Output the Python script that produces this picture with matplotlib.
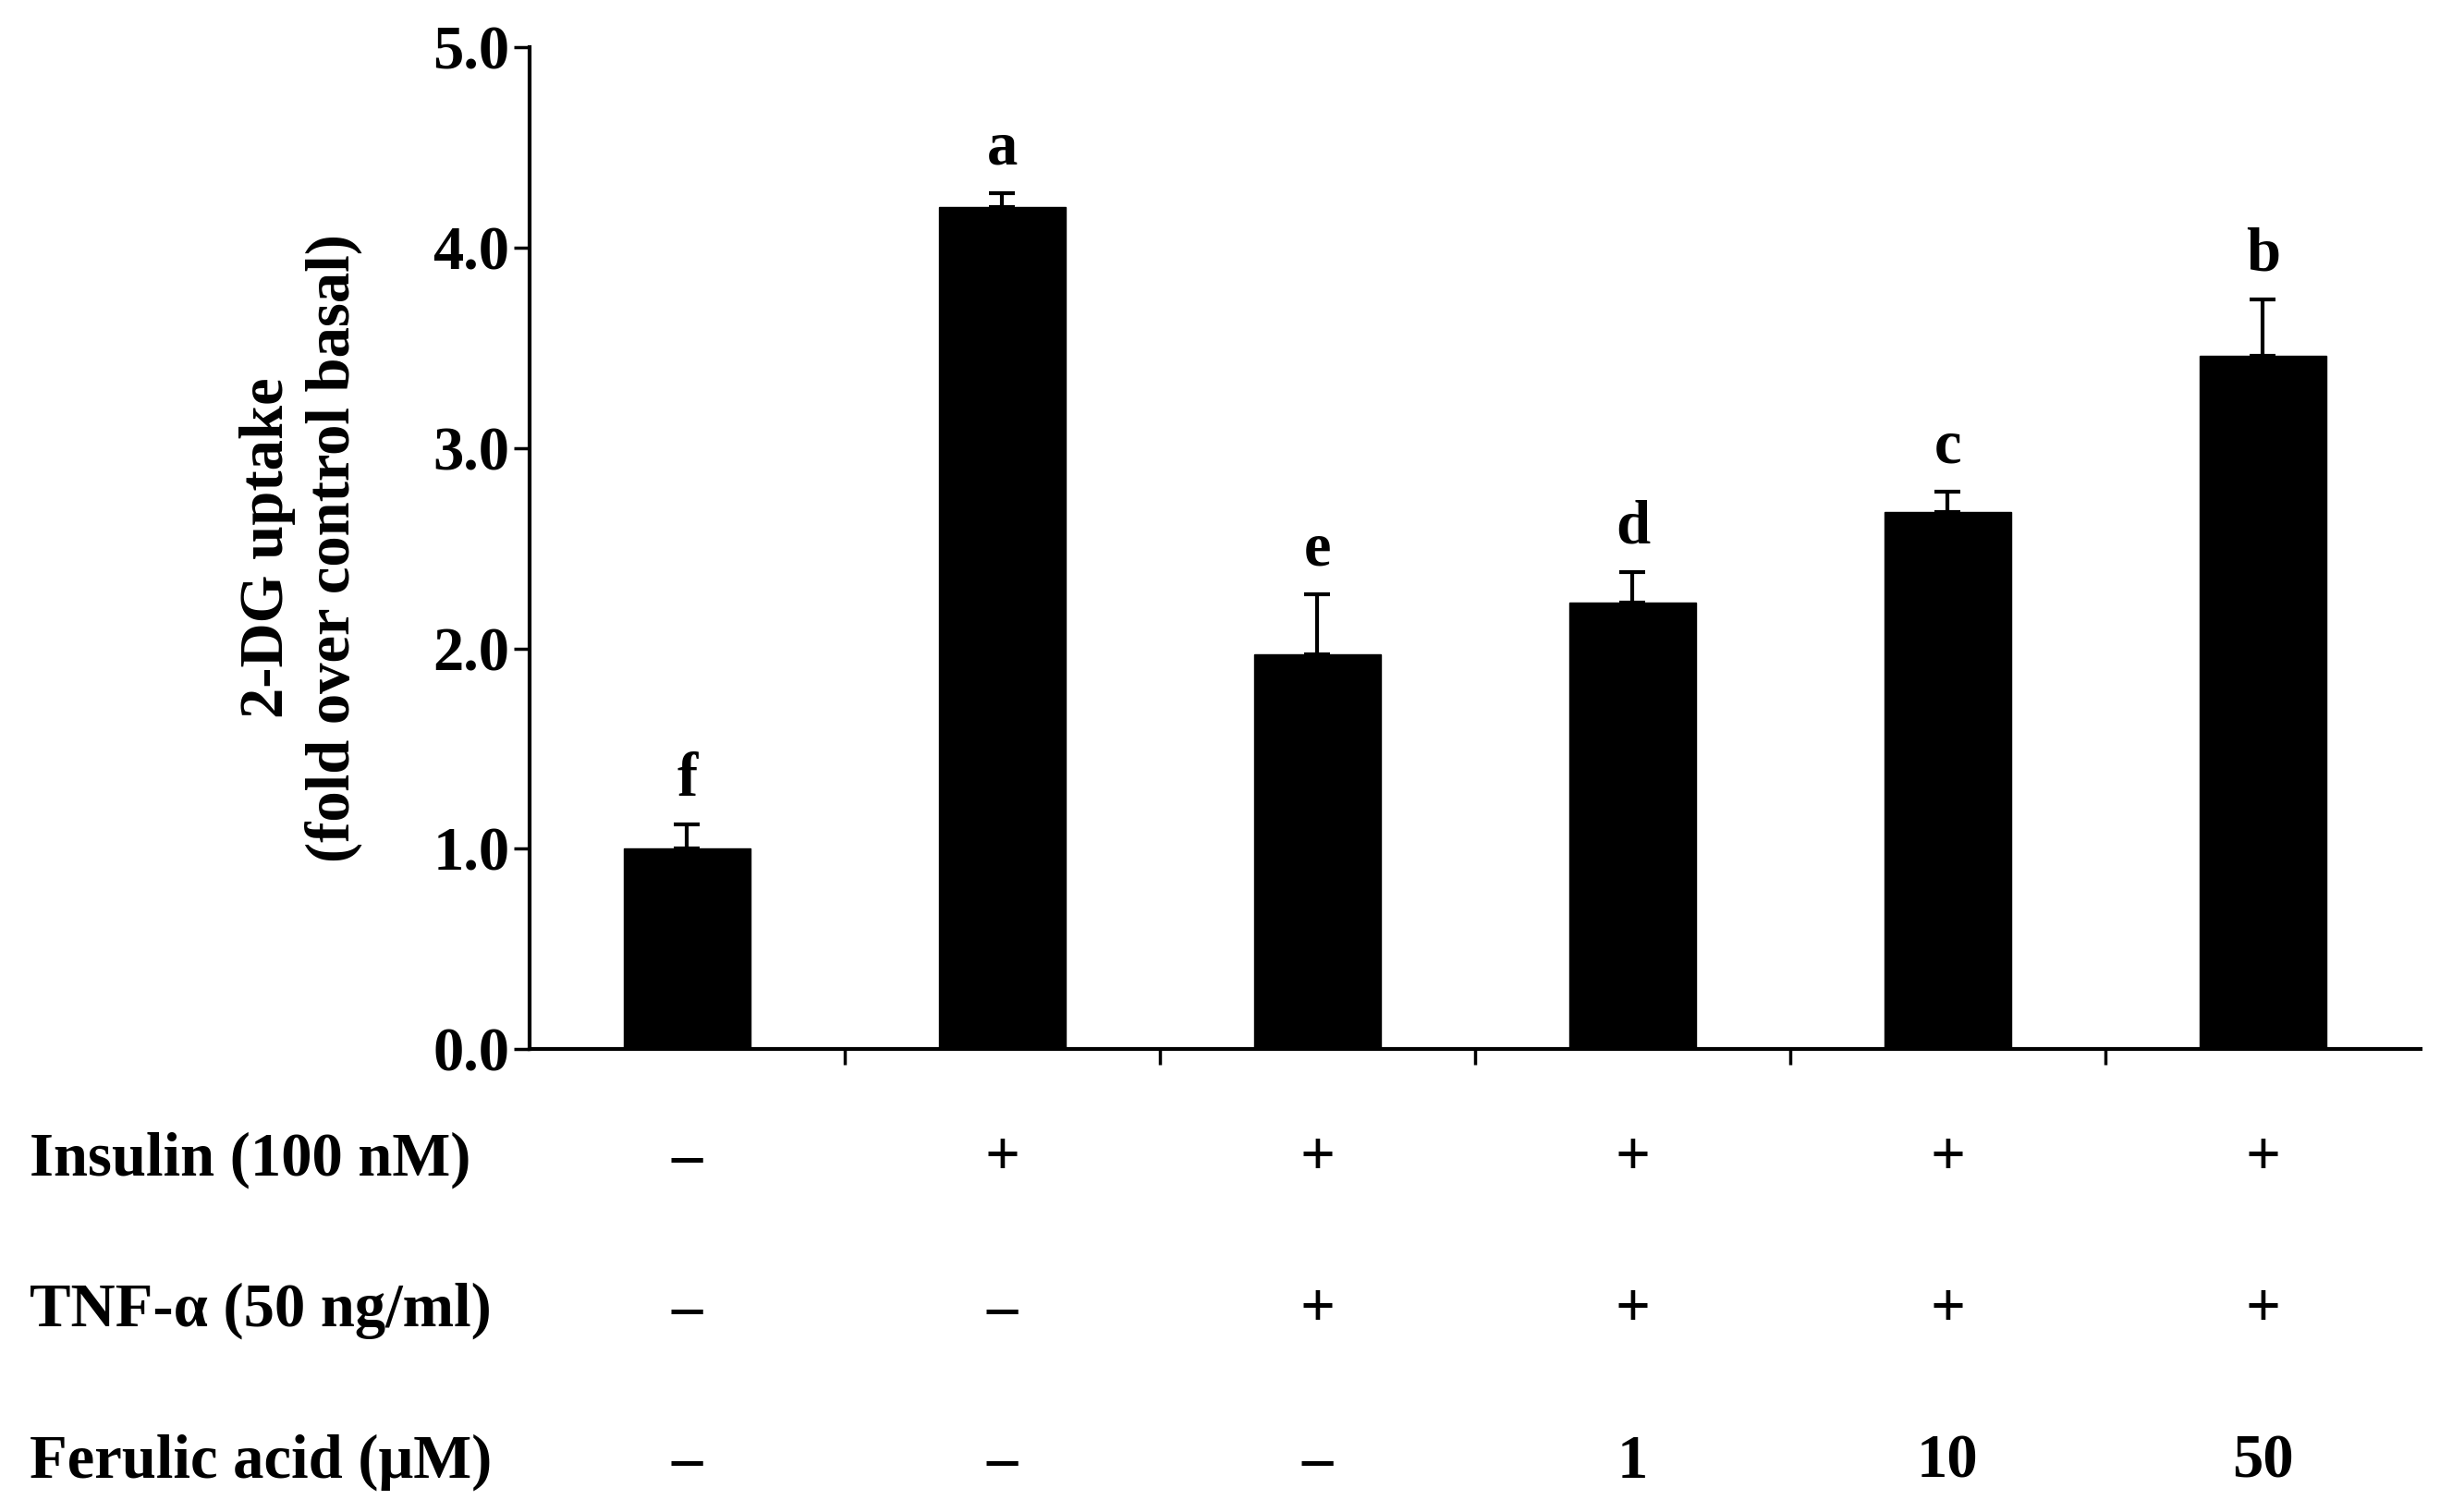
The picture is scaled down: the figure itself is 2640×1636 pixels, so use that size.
import matplotlib
matplotlib.use("Agg")
import matplotlib.pyplot as plt
import matplotlib.transforms as mtransforms

values = [1.0, 4.2, 1.97, 2.23, 2.68, 3.46]
errors = [0.12, 0.07, 0.3, 0.15, 0.1, 0.28]
letters = ["f", "a", "e", "d", "c", "b"]
row_labels = ["Insulin (100 nM)", "TNF-α (50 ng/ml)", "Ferulic acid (μM)"]
rows = [["\u2013", "+", "+", "+", "+", "+"],
        ["\u2013", "\u2013", "+", "+", "+", "+"],
        ["\u2013", "\u2013", "\u2013", "1", "10", "50"]]
yticks = [0.0, 1.0, 2.0, 3.0, 4.0, 5.0]

plt.rcParams['font.family'] = ['Liberation Serif', 'DejaVu Serif']
plt.rcParams['font.weight'] = 'bold'
fs = 48

fig = plt.figure(figsize=(26.4, 16.36), dpi=100)
ax = fig.add_axes([0.217, 0.306, 0.775, 0.663])
x = [i + 0.5 for i in range(len(values))]
ax.bar(x, values, width=0.4, color='black', edgecolor='black')
ax.errorbar(x, values, yerr=[[0]*len(values), errors], fmt='none', ecolor='black',
            elinewidth=3, capsize=10, capthick=3)
for xi, v, e, l in zip(x, values, errors, letters):
    ax.text(xi, v + e + 0.08, l, ha='center', va='bottom', fontsize=fs, fontweight='bold')
ax.set_xlim(0, 6)
ax.set_ylim(0, 5.0)
ax.set_yticks(yticks)
ax.set_yticklabels([f"{t:.1f}" for t in yticks], fontsize=fs, fontweight='bold')
ax.set_xticks([1, 2, 3, 4, 5])
ax.set_xticklabels([])
ax.tick_params(axis='both', direction='out', length=12, width=2.5)
for s in ['top', 'right']:
    ax.spines[s].set_visible(False)
for s in ['left', 'bottom']:
    ax.spines[s].set_linewidth(3)
ax.set_ylabel("2-DG uptake\n(fold over control basal)", fontsize=fs, fontweight='bold', labelpad=55)

trans = mtransforms.blended_transform_factory(ax.transData, fig.transFigure)
row_y = [0.233, 0.133, 0.033]
for lab, ry, r in zip(row_labels, row_y, rows):
    fig.text(0.012, ry, lab, ha='left', va='center', fontsize=fs, fontweight='bold')
    for xi, s in zip(x, r):
        ax.text(xi, ry, s, transform=trans, ha='center', va='center', fontsize=fs,
                fontweight='bold', clip_on=False)

fig.savefig("out.png", dpi=100)
